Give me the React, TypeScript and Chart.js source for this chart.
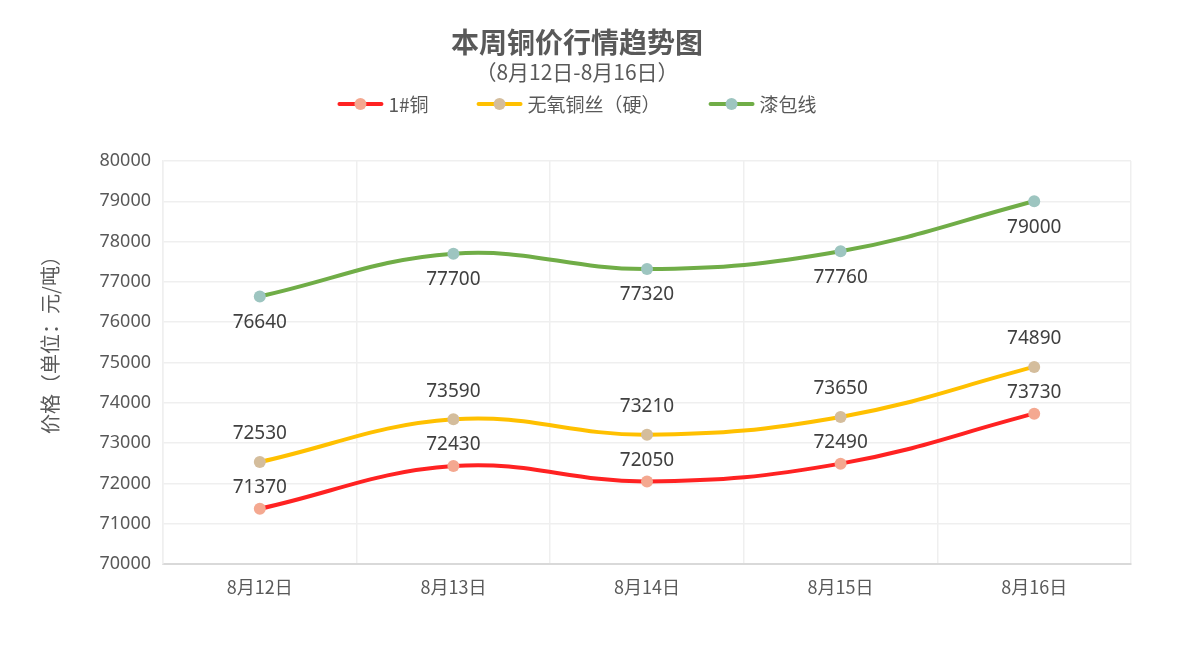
import React, { useEffect, useRef } from "react";
import { Chart, registerables } from "chart.js";

Chart.register(...registerables);

const categories = ["8月12日", "8月13日", "8月14日", "8月15日", "8月16日"];
const copperValues = [71370, 72430, 72050, 72490, 73730];
const wireValues = [72530, 73590, 73210, 73650, 74890];
const enamelValues = [76640, 77700, 77320, 77760, 79000];
const seriesNames = ["1#铜", "无氧铜丝（硬）", "漆包线"];
const yMin = 70000;
const yMax = 80000;
const yStep = 1000;

const titleText = "本周铜价行情趋势图";
const subtitleText = "（8月12日-8月16日）";
const yTitleText = "价格（单位：元/吨）";

const lineColors = ["#FF2222", "#FFC000", "#70AD47"];
const markerColors = ["#F4A890", "#D4BD9C", "#9DC5C0"];
const labelOffsets = [-21, -28, 26];

const FONT = "'Noto Sans', 'Noto Sans CJK SC', sans-serif";
const CJK = "'Noto Sans CJK SC', 'Noto Sans', sans-serif";

const decorPlugin = {
  id: "decor",
  afterDatasetsDraw(chart: any) {
    const ctx = chart.ctx as CanvasRenderingContext2D;
    ctx.save();
    chart.data.datasets.forEach((ds: any, i: number) => {
      const meta = chart.getDatasetMeta(i);
      meta.data.forEach((pt: any, j: number) => {
        ctx.font = `19px ${FONT}`;
        ctx.fillStyle = "#404040";
        ctx.textAlign = "center";
        ctx.textBaseline = "middle";
        ctx.fillText(String(ds.data[j]), pt.x, pt.y + labelOffsets[i]);
      });
    });
    ctx.restore();
  },
  afterDraw(chart: any) {
    const ctx = chart.ctx as CanvasRenderingContext2D;
    const cx = 569;
    ctx.save();
    ctx.textAlign = "center";
    ctx.textBaseline = "middle";
    ctx.fillStyle = "#595959";
    ctx.font = `bold 28px ${CJK}`;
    ctx.fillText(titleText, cx, 34);
    ctx.font = `21px ${CJK}`;
    ctx.fillText(subtitleText, cx, 64);

    ctx.font = `19px ${CJK}`;
    const lineLen = 46;
    const gapText = 5;
    const itemGap = 48;
    const widths = seriesNames.map((n) => lineLen + gapText + ctx.measureText(n).width);
    const total = widths.reduce((a, b) => a + b, 0) + itemGap * (seriesNames.length - 1);
    let x = cx - total / 2;
    const ly = 96;
    seriesNames.forEach((n, i) => {
      ctx.strokeStyle = lineColors[i];
      ctx.lineWidth = 4;
      ctx.lineCap = "round";
      ctx.beginPath();
      ctx.moveTo(x + 2, ly);
      ctx.lineTo(x + lineLen - 2, ly);
      ctx.stroke();
      ctx.fillStyle = markerColors[i];
      ctx.beginPath();
      ctx.arc(x + lineLen / 2, ly, 6, 0, Math.PI * 2);
      ctx.fill();
      ctx.fillStyle = "#595959";
      ctx.textAlign = "left";
      ctx.fillText(n, x + lineLen + gapText, ly + 1);
      x += widths[i] + itemGap;
    });

    ctx.translate(42, 332);
    ctx.rotate(-Math.PI / 2);
    ctx.textAlign = "center";
    ctx.font = `20px ${CJK}`;
    ctx.fillStyle = "#595959";
    ctx.fillText(yTitleText, 0, 0);
    ctx.restore();
  },
};

export default function App() {
  const ref = useRef<HTMLCanvasElement>(null);
  useEffect(() => {
    if (!ref.current) return;
    const values = [copperValues, wireValues, enamelValues];
    const chart = new Chart(ref.current, {
      type: "line",
      data: {
        labels: categories,
        datasets: values.map((v, i) => ({
          label: seriesNames[i],
          data: v,
          borderColor: lineColors[i],
          backgroundColor: markerColors[i],
          pointBackgroundColor: markerColors[i],
          pointBorderColor: markerColors[i],
          pointRadius: 6,
          pointBorderWidth: 0,
          borderWidth: 4,
          tension: 0.4,
          fill: false,
        })),
      },
      options: {
        animation: false,
        responsive: true,
        maintainAspectRatio: false,
        layout: { padding: { top: 153, right: 41, bottom: 0, left: 0 } },
        plugins: {
          legend: { display: false },
          title: { display: false },
          tooltip: { enabled: false },
        },
        scales: {
          x: {
            offset: true,
            grid: { offset: true, color: "#EFEFEF", lineWidth: 1.5, drawTicks: false },
            border: { color: "#D9D9D9", width: 2 },
            ticks: { color: "#595959", font: { size: 18, family: CJK }, padding: 12 },
            afterFit: (s: any) => {
              s.height = 74;
            },
          },
          y: {
            min: yMin,
            max: yMax,
            grid: { color: "#EFEFEF", lineWidth: 1.5, drawTicks: false },
            border: { color: "#EFEFEF", width: 1.5 },
            ticks: {
              stepSize: yStep,
              color: "#595959",
              font: { size: 18, family: FONT },
              padding: 12,
              callback: (v: any) => String(v),
            },
            afterFit: (s: any) => {
              s.width = 155;
            },
          },
        },
      },
      plugins: [decorPlugin],
    });
    return () => chart.destroy();
  }, []);
  return (
    <div style={{ width: "1164px", height: "630px", position: "relative" }}>
      <canvas ref={ref} />
    </div>
  );
}
